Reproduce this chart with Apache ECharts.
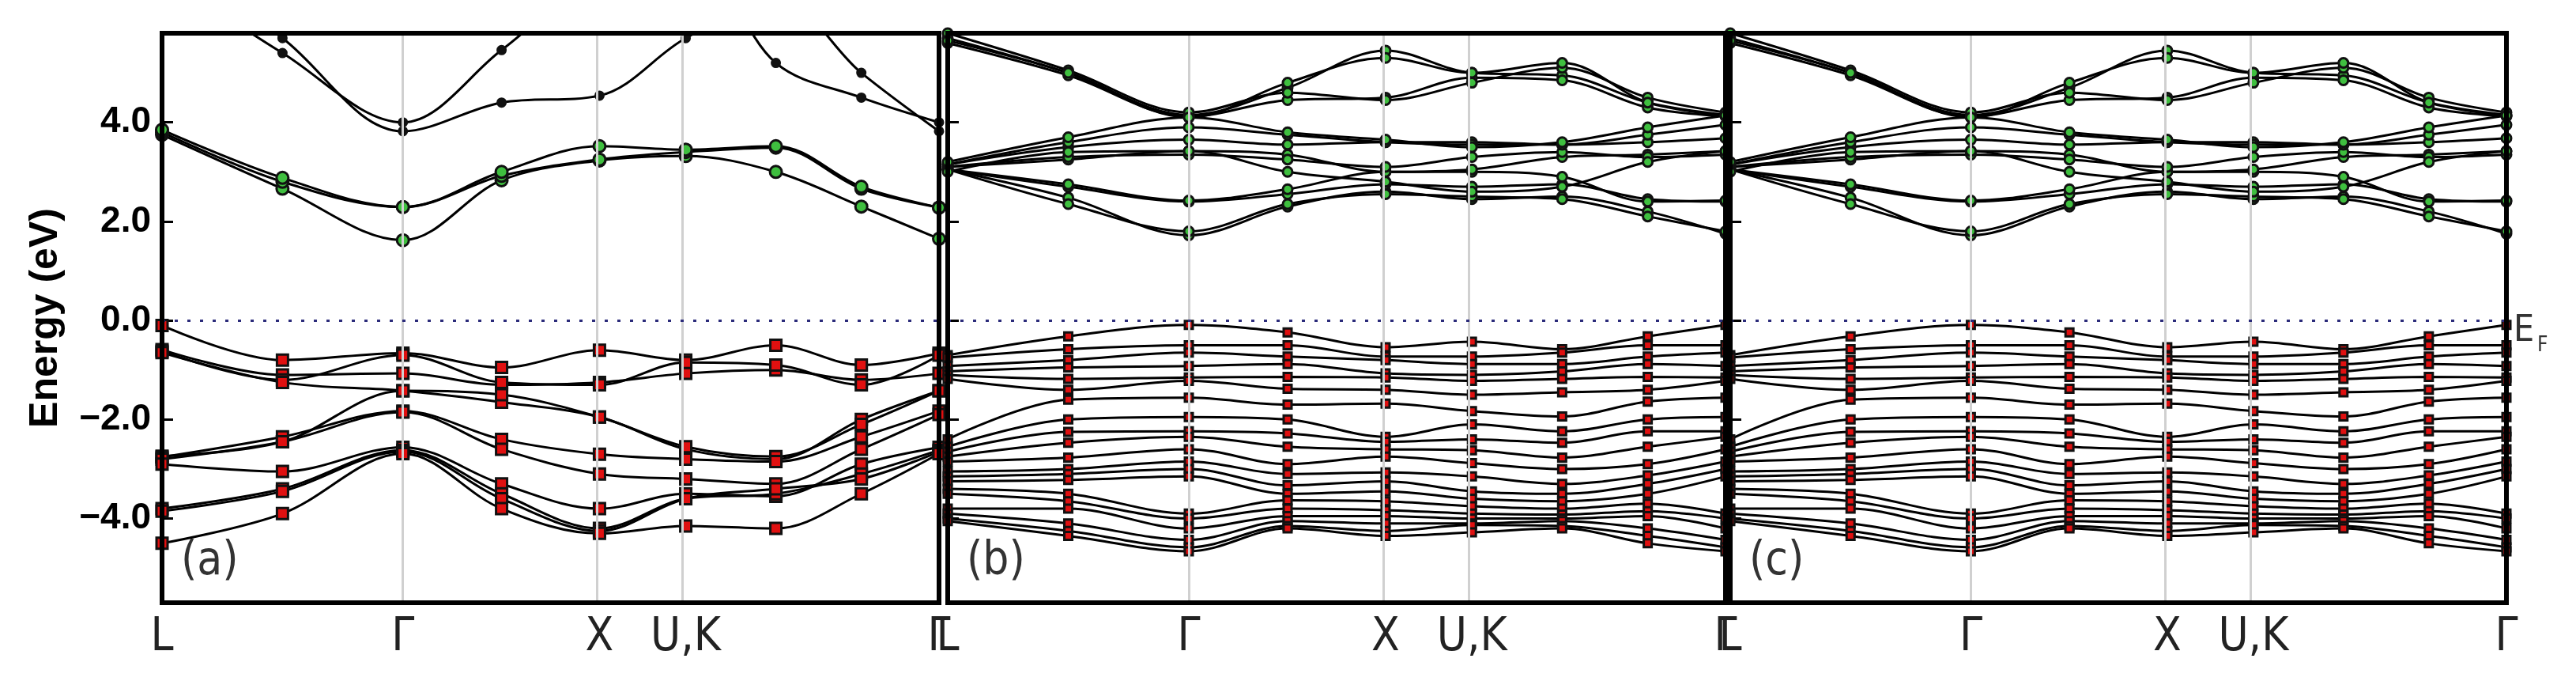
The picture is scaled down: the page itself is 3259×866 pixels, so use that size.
<!DOCTYPE html>
<html><head><meta charset="utf-8">
<script src="https://cdn.jsdelivr.net/npm/echarts@6/dist/echarts.min.js"></script>
<style>html,body{margin:0;padding:0;background:#fff}#c{width:3259px;height:866px}</style>
</head><body><div id="c"></div>
<script>
// k-path sample positions (fraction of path): L, mid, Γ, mid, X, U|K, mid, mid, Γ
const kPos = [0, 0.155, 0.31, 0.437, 0.563, 0.674, 0.79, 0.9, 1.0];
const kNodes = [0, 0.31, 0.563, 0.674, 1.0];
const kLabels = ['L', 'Γ', 'X', 'U,K', 'Γ'];
const yTicks = [-4, -2, 0, 2, 4];

// panel (a) conduction bands (green-weighted)
const condA = [
  [3.75, 2.66, 1.62, 2.83, 3.23, 3.32, 3.00, 2.30, 1.65],
  [3.80, 2.80, 2.29, 2.92, 3.25, 3.40, 3.49, 2.66, 2.28],
  [3.85, 2.88, 2.29, 3.00, 3.52, 3.45, 3.52, 2.70, 2.28]
];
// panel (a) upper conduction bands
const upperA = [
  [7.5, 5.70, 3.82, 4.40, 4.54, 5.70, 6.50, 5.00, 3.82],
  [7.0, 5.40, 4.00, 5.46, 7.00, 7.50, 5.20, 4.50, 4.00]
];
// panel (a) valence bands (red-weighted)
const valA = [
  [-0.10, -0.80, -0.66, -0.95, -0.60, -0.80, -0.50, -0.90, -0.66],
  [-0.59, -1.10, -1.07, -1.30, -1.25, -1.07, -1.00, -1.20, -1.07],
  [-0.62, -1.20, -0.70, -1.25, -1.30, -0.85, -0.90, -1.30, -0.70],
  [-0.65, -1.25, -1.42, -1.65, -1.95, -2.60, -2.80, -2.00, -1.42],
  [-2.74, -2.45, -1.42, -1.50, -1.95, -2.55, -2.75, -2.10, -1.42],
  [-2.76, -2.35, -1.83, -2.40, -2.70, -2.80, -2.85, -2.35, -1.83],
  [-2.80, -2.45, -1.85, -2.60, -3.10, -3.20, -3.30, -2.60, -1.90],
  [-2.90, -3.05, -2.56, -3.30, -3.80, -3.50, -3.55, -2.90, -2.56],
  [-3.80, -3.40, -2.62, -3.50, -4.20, -3.60, -3.50, -3.10, -2.62],
  [-3.85, -3.45, -2.65, -3.60, -4.25, -3.60, -3.40, -3.20, -2.65],
  [-4.50, -3.90, -2.69, -3.80, -4.30, -4.15, -4.20, -3.50, -2.69]
];
// panels (b),(c) conduction bands
const condB = [
  [3.05, 2.48, 1.72, 2.30, 2.60, 2.45, 2.50, 2.20, 1.75],
  [3.05, 2.35, 1.80, 2.35, 2.55, 2.50, 2.45, 2.10, 1.80],
  [3.05, 2.70, 2.40, 2.55, 2.75, 2.70, 2.75, 2.45, 2.40],
  [3.05, 2.75, 2.42, 2.65, 3.00, 3.00, 2.90, 2.40, 2.42],
  [3.10, 3.25, 3.42, 3.35, 3.00, 3.05, 3.30, 3.35, 3.42],
  [3.10, 3.30, 3.35, 3.25, 3.10, 3.30, 3.40, 3.30, 3.35],
  [3.15, 3.50, 3.65, 3.55, 3.60, 3.60, 3.55, 3.60, 3.68],
  [3.15, 3.60, 3.90, 3.75, 3.60, 3.55, 3.55, 3.75, 3.95],
  [3.20, 3.70, 4.10, 3.80, 3.65, 3.50, 3.60, 3.90, 4.14],
  [3.00, 3.40, 3.42, 3.00, 2.80, 2.60, 2.70, 3.20, 3.42],
  [5.70, 5.00, 4.15, 4.70, 5.45, 5.00, 4.95, 4.40, 4.15],
  [5.60, 4.95, 4.12, 4.45, 4.50, 4.90, 4.85, 4.30, 4.12],
  [5.80, 5.05, 4.20, 4.60, 4.45, 4.80, 5.10, 4.50, 4.20],
  [5.65, 5.00, 4.10, 4.80, 5.30, 5.00, 5.20, 4.40, 4.14]
];
// panels (b),(c) valence energies listed per k-point (one row per kPos entry)
const valB_byK = [
  [-0.70,-0.75,-0.92,-1.03,-1.10,-1.18,-2.40,-2.55,-2.65,-2.75,-2.85,-3.05,-3.15,-3.25,-3.40,-3.50,-3.80,-3.90,-4.00,-4.05],
  [-0.32,-0.58,-0.80,-0.95,-1.18,-1.40,-1.60,-2.00,-2.25,-2.47,-2.77,-3.00,-3.10,-3.22,-3.50,-3.65,-3.80,-4.10,-4.25,-4.35],
  [-0.09,-0.50,-0.65,-0.92,-1.15,-1.22,-1.56,-1.95,-2.24,-2.35,-2.60,-2.85,-3.00,-3.15,-3.90,-4.00,-4.20,-4.43,-4.58,-4.66],
  [-0.24,-0.50,-0.73,-0.88,-1.14,-1.38,-1.70,-2.00,-2.28,-2.55,-2.90,-3.10,-3.33,-3.50,-3.63,-3.80,-3.95,-4.05,-4.15,-4.20],
  [-0.54,-0.73,-0.80,-1.07,-1.15,-1.40,-1.68,-2.35,-2.45,-2.60,-2.75,-3.07,-3.25,-3.45,-3.65,-3.83,-3.95,-4.10,-4.25,-4.35],
  [-0.43,-0.73,-0.88,-1.10,-1.22,-1.50,-1.83,-2.10,-2.40,-2.62,-2.88,-3.15,-3.45,-3.60,-3.75,-3.90,-4.00,-4.10,-4.13,-4.28],
  [-0.58,-0.65,-0.88,-1.03,-1.18,-1.45,-1.94,-2.24,-2.47,-2.77,-3.00,-3.30,-3.50,-3.65,-3.80,-3.92,-4.00,-4.05,-4.15,-4.20],
  [-0.32,-0.50,-0.73,-0.88,-1.14,-1.40,-1.64,-2.00,-2.24,-2.55,-2.90,-3.13,-3.30,-3.50,-3.70,-3.85,-3.95,-4.20,-4.35,-4.50],
  [-0.09,-0.50,-0.65,-0.92,-1.15,-1.22,-1.56,-1.95,-2.24,-2.35,-2.60,-2.85,-3.00,-3.15,-3.90,-4.00,-4.20,-4.43,-4.58,-4.66]
];
const valB = valB_byK[0].map((_, b) => valB_byK.map(row => row[b]));

const grids = [
  {left: 205, top: 42, width: 983, height: 720},
  {left: 1199, top: 42, width: 984, height: 720},
  {left: 2189, top: 42, width: 982, height: 720}
];
const panelNames = ['(a)', '(b)', '(c)'];
const chart = echarts.init(document.getElementById('c'));
const xAxes = [], yAxes = [], series = [];
grids.forEach((g, i) => {
  xAxes.push({gridIndex: i, type: 'value', min: 0, max: 1,
    axisLine: {show: false}, axisTick: {show: false}, splitLine: {show: false},
    axisLabel: {customValues: kNodes, formatter: v => kLabels[kNodes.indexOf(v)] || '',
      fontSize: 58, color: '#222', margin: 16, fontFamily: 'DejaVu Sans Condensed, DejaVu Sans'}});
  yAxes.push({gridIndex: i, type: 'value', min: -5.7, max: 5.8,
    axisLine: {show: false}, splitLine: {show: false},
    axisTick: {show: true, inside: true, length: 14, customValues: yTicks, lineStyle: {color: '#000', width: 3}},
    axisLabel: {show: i === 0, customValues: yTicks, fontSize: 46, fontWeight: 'bold', color: '#000', margin: 14,
      fontFamily: 'Liberation Sans', formatter: v => (v < 0 ? '−' : '') + Math.abs(v).toFixed(1)},
    name: i === 0 ? 'Energy (eV)' : '', nameLocation: 'middle', nameGap: 122,
    nameTextStyle: {fontSize: 50, fontWeight: 'bold', color: '#000', fontFamily: 'Liberation Sans'}});
  series.push({type: 'line', xAxisIndex: i, yAxisIndex: i, data: [], silent: true,
    markLine: {symbol: 'none', silent: true, label: {show: false}, animation: false,
      data: [
        ...kNodes.slice(1, 4).map(x => ({xAxis: x, lineStyle: {color: '#d0d0d0', width: 3, type: 'solid'}})),
        {yAxis: 0, lineStyle: {color: '#2b2b7a', width: 3, type: [4, 12]}}
      ]}});
  const addBands = (bands, sym, color, size, lw) => bands.forEach(b => series.push({
    type: 'line', xAxisIndex: i, yAxisIndex: i, smooth: 0.35, clip: true,
    data: kPos.map((x, k) => [x, b[k]]), symbol: sym, symbolSize: size, showSymbol: true,
    lineStyle: {color: '#000', width: lw}, itemStyle: {color: color, borderColor: '#111', borderWidth: 3},
    animation: false, z: 3}));
  if (i === 0) {
    addBands(condA, 'circle', '#3fbf3f', 15, 3);
    addBands(upperA, 'circle', '#111', 10, 3);
    addBands(valA, 'rect', '#e01010', 14, 3);
  } else {
    addBands(condB, 'circle', '#3fbf3f', 12, 3);
    addBands(valB, 'rect', '#e01010', 10, 3);
  }
});
const graphics = grids.map((g, i) => ({type: 'rect', z: 10, silent: true,
  shape: {x: g.left, y: g.top, width: g.width, height: g.height},
  style: {fill: 'none', stroke: '#000', lineWidth: 6}}));
grids.forEach((g, i) => graphics.push({type: 'text', z: 11, left: g.left + 24, top: g.top + g.height - 80,
  style: {text: panelNames[i], fontSize: 58, fill: '#333', fontFamily: 'DejaVu Sans Condensed, DejaVu Sans'}}));
graphics.push({type: 'text', z: 11, left: 3180, top: 396,
  style: {text: 'E', fontSize: 46, fill: '#333', fontFamily: 'DejaVu Sans Condensed'}});
graphics.push({type: 'text', z: 11, left: 3210, top: 424,
  style: {text: 'F', fontSize: 26, fill: '#333', fontFamily: 'DejaVu Sans Condensed'}});
chart.setOption({animation: false, grid: grids, xAxis: xAxes, yAxis: yAxes, series: series, graphic: graphics});
</script></body></html>
